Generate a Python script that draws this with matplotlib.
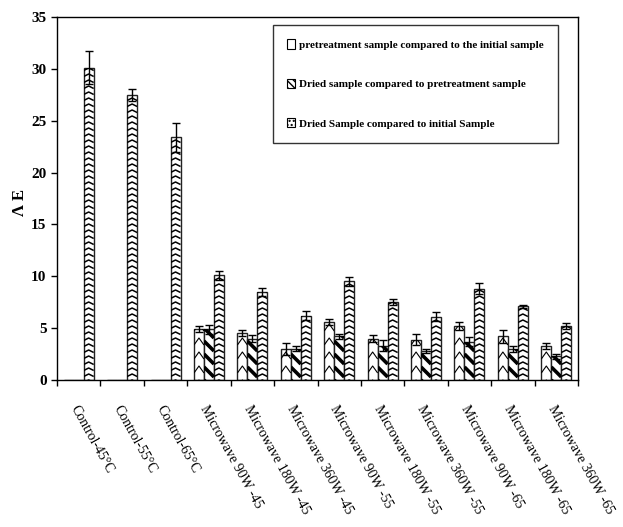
import numpy as np
import matplotlib
matplotlib.use("Agg")
import matplotlib.pyplot as plt
from matplotlib.patches import Patch

plt.rcParams['font.family'] = ['Liberation Serif', 'DejaVu Serif']

# colour change values per treatment
categories = ["Control-45°C", "Control-55°C", "Control-65°C",
              "Microwave 90W -45", "Microwave 180W -45", "Microwave 360W -45",
              "Microwave 90W -55", "Microwave 180W -55", "Microwave 360W -55",
              "Microwave 90W -65", "Microwave 180W -65", "Microwave 360W -65"]
series_names = ["pretreatment sample compared to the initial sample",
                "Dried sample compared to pretreatment sample",
                "Dried Sample compared to initial Sample"]
pre_vs_init = [0, 0, 0, 4.9, 4.5, 3.0, 5.6, 4.0, 3.9, 5.2, 4.2, 3.3]
dried_vs_pre = [0, 0, 0, 4.9, 4.0, 3.0, 4.2, 3.3, 2.8, 3.7, 3.0, 2.3]
dried_vs_init = [30.1, 27.5, 23.4, 10.1, 8.5, 6.2, 9.5, 7.5, 6.1, 8.8, 7.1, 5.2]
err_pre = [0, 0, 0, 0.3, 0.3, 0.6, 0.3, 0.3, 0.5, 0.4, 0.6, 0.3]
err_dried = [0, 0, 0, 0.45, 0.3, 0.25, 0.25, 0.55, 0.2, 0.4, 0.3, 0.25]
err_total = [1.6, 0.6, 1.4, 0.45, 0.4, 0.45, 0.45, 0.3, 0.45, 0.55, 0.15, 0.3]

fig = plt.figure(figsize=(6.23, 5.27), dpi=100)
ax = fig.add_axes([57 / 623, 1 - 380 / 527, 521 / 623, 363 / 527])

x = np.arange(len(categories))
w = 0.23
ax.set_xlim(-0.5, len(categories) - 0.5)
ax.set_ylim(0, 35)

# data units per pixel, used for the hand-drawn fill patterns
px_x = len(categories) / 521.0
px_y = 35 / 363.0


def chevrons(bar, step, amp, lw):
    x0, y0 = bar.get_x(), bar.get_y()
    bw, bh = bar.get_width(), bar.get_height()
    if bh <= 0:
        return
    xs, ys = [], []
    y = y0 - amp * px_y
    while y < y0 + bh:
        xs += [x0, x0 + bw / 2, x0 + bw, np.nan]
        ys += [y, y + amp * px_y, y, np.nan]
        y += step * px_y
    ln, = ax.plot(xs, ys, color='black', lw=lw, solid_capstyle='butt')
    ln.set_clip_path(bar)


def stripes(bar, step, lw):
    x0, y0 = bar.get_x(), bar.get_y()
    bw, bh = bar.get_width(), bar.get_height()
    if bh <= 0:
        return
    wpx = bw / px_x
    xs, ys = [], []
    y = y0 - wpx * px_y
    while y < y0 + bh + wpx * px_y:
        xs += [x0, x0 + bw, np.nan]
        ys += [y + wpx * px_y, y, np.nan]
        y += step * px_y
    ln, = ax.plot(xs, ys, color='black', lw=lw, solid_capstyle='butt')
    ln.set_clip_path(bar)


b1 = ax.bar(x - w, pre_vs_init, w, color='white', edgecolor='#222222', lw=1.0)
b2 = ax.bar(x, dried_vs_pre, w, color='white', edgecolor='#222222', lw=1.0)
b3 = ax.bar(x + w, dried_vs_init, w, color='white', edgecolor='#222222', lw=1.0)
for b in b1:
    chevrons(b, 14, 7, 0.8)
for b in b2:
    stripes(b, 13, 2.6)
for b in b3:
    chevrons(b, 6, 2.5, 1.1)

for xs, vals, errs in [(x - w, pre_vs_init, err_pre), (x, dried_vs_pre, err_dried),
                       (x + w, dried_vs_init, err_total)]:
    keep = [i for i in range(len(vals)) if vals[i] > 0]
    ax.errorbar(xs[keep], np.array(vals)[keep], yerr=np.array(errs)[keep], fmt='none',
                ecolor='black', elinewidth=1.0, capsize=3, capthick=1.0)

# ticks between groups, names at group centres
ax.set_xticks(np.arange(-0.5, len(categories), 1.0))
ax.set_xticklabels([])
ax.set_xticks(x, minor=True)
ax.set_xticklabels(categories, minor=True, rotation=-61, ha='left', va='top',
                   rotation_mode='anchor', fontsize=10)
ax.tick_params(axis='x', which='minor', length=0, pad=17)
ax.tick_params(axis='x', which='major', length=4, direction='out', width=1)
ax.set_yticks(np.arange(0, 36, 5))
ax.tick_params(axis='y', length=4, direction='out', width=1, labelsize=11)
for t in ax.get_yticklabels():
    t.set_fontweight('bold')
for s in ax.spines.values():
    s.set_linewidth(1.0)

fig.text(20 / 623, 1 - 203 / 527, "Λ E", rotation=90, fontsize=12, fontweight='bold',
         ha='center', va='center')

handles = [Patch(facecolor='white', edgecolor='black', lw=0.8),
           Patch(facecolor='white', edgecolor='black', lw=0.8, hatch='\\\\\\\\\\'),
           Patch(facecolor='white', edgecolor='black', lw=0.8, hatch='....')]
leg = ax.legend(handles, series_names, loc='upper left',
                bbox_to_anchor=(273 / 623, 1 - 25 / 527), bbox_transform=fig.transFigure,
                prop={'weight': 'bold', 'size': 8}, frameon=True, fancybox=False,
                edgecolor='black', handlelength=0.7, handleheight=0.9, handletextpad=0.3,
                labelspacing=2.6, borderpad=1.3, borderaxespad=0)
leg.get_frame().set_linewidth(1.0)

fig.savefig("out.png", dpi=100)
